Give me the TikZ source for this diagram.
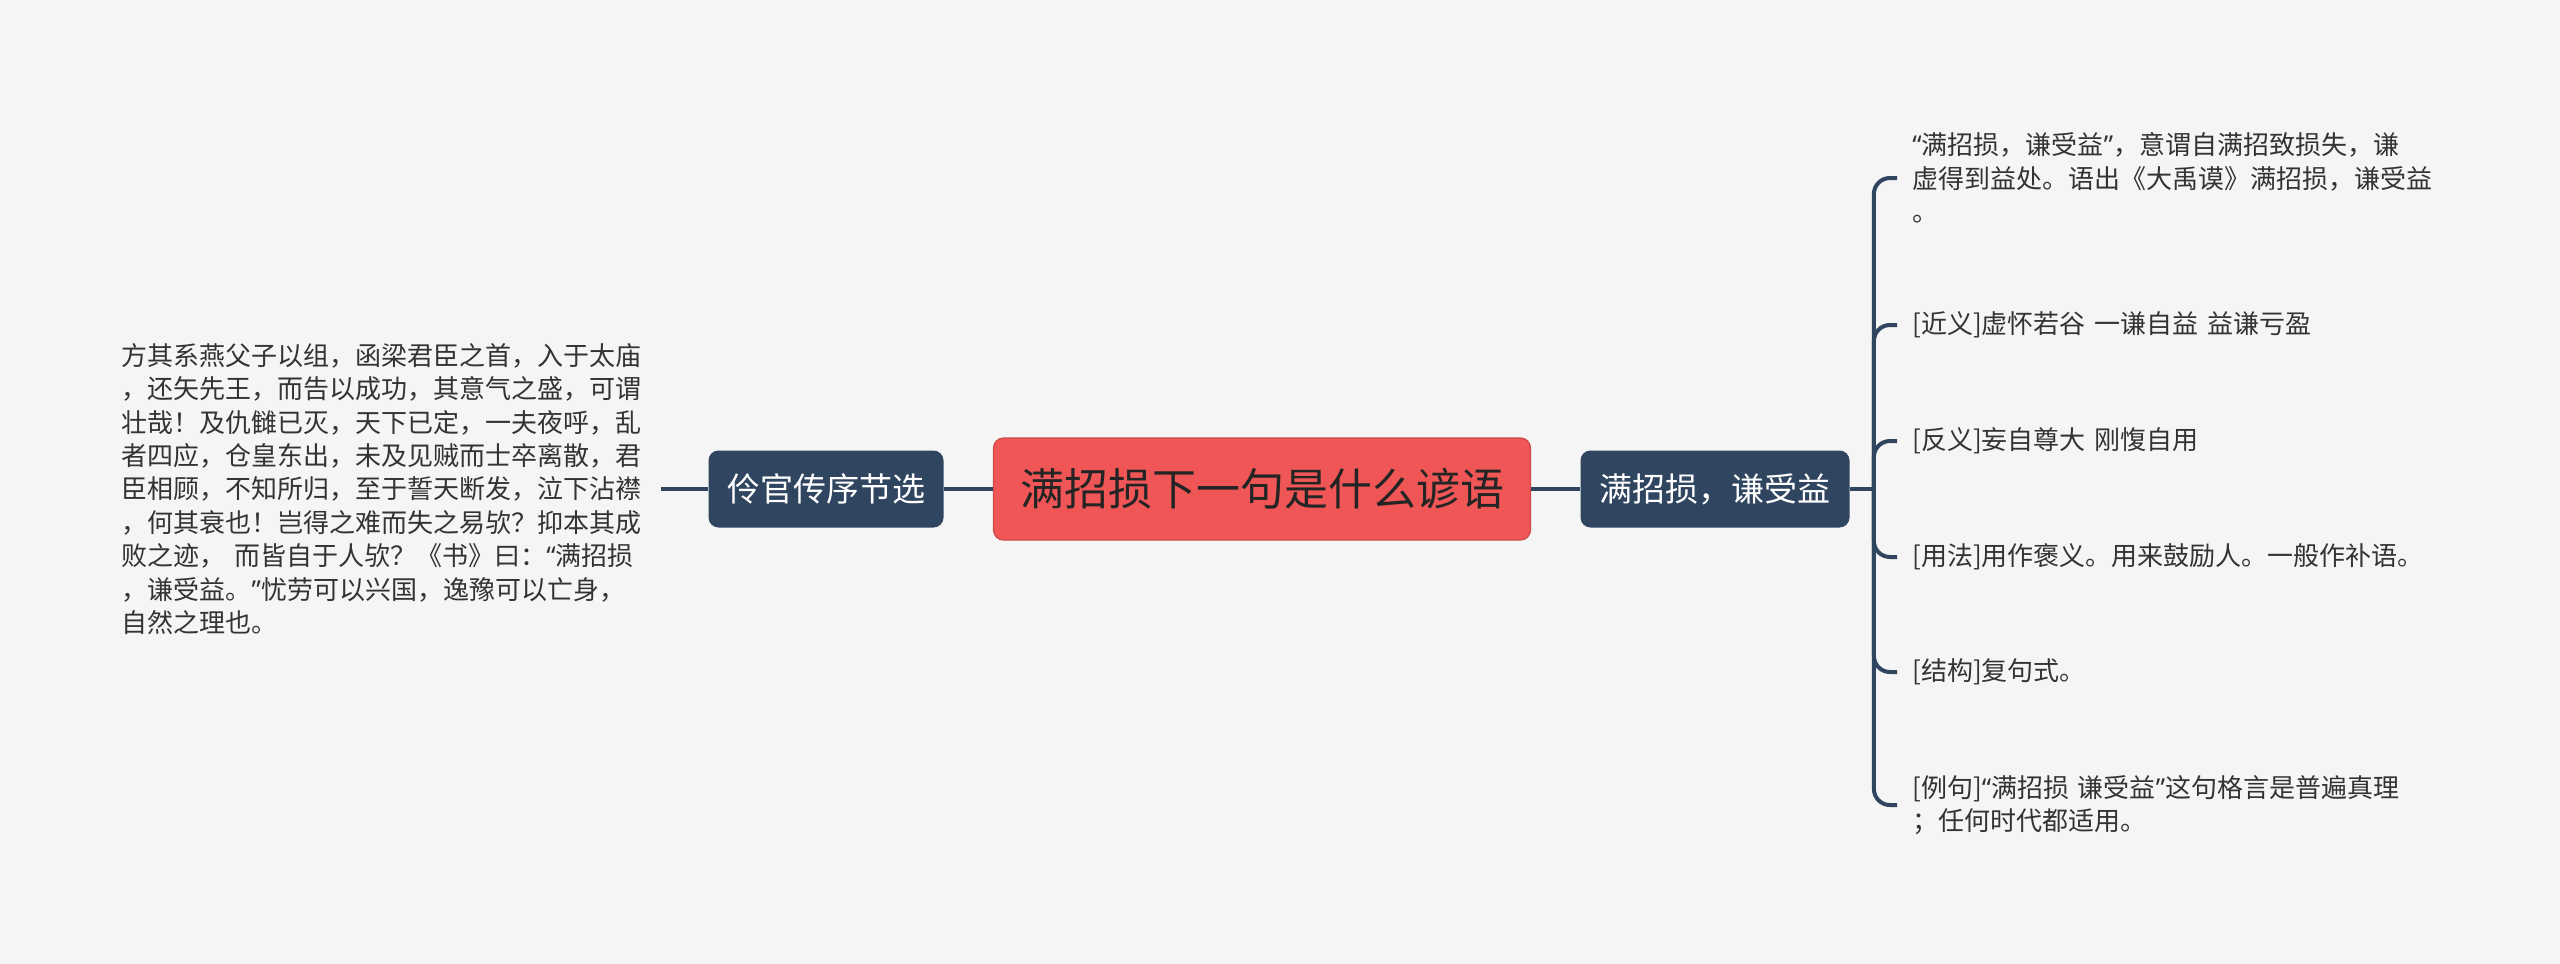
\documentclass[tikz,border=0pt]{standalone}
\usepackage{fontspec}
\setmainfont{Noto Sans CJK SC}
\newfontfamily\westfont{Noto Sans}
\usepackage{xcolor}
\usetikzlibrary{positioning}

\definecolor{bgcol}{HTML}{F5F5F5}
\definecolor{topicred}{HTML}{F05656}
\definecolor{slate}{HTML}{2F4560}
\definecolor{inkgray}{HTML}{333333}

% narrow quote marks as in the reference
\newcommand{\oq}{{\westfont “}}
\newcommand{\cq}{{\westfont ”}}

\begin{document}
\begin{tikzpicture}[x=0.5pt, y=-0.5pt, rounded corners=5pt,
  topic/.style={fill=topicred, draw=topicred!85!black, line width=0.6pt, text=inkgray!70!black,
    minimum width=268.5pt, minimum height=51pt, font=\fontsize{22}{26}\selectfont},
  sub/.style={fill=slate, text=white, minimum height=38.5pt, inner xsep=9pt,
    font=\fontsize{16.5}{20}\selectfont},
  leaf/.style={text=inkgray, align=left, text width=262pt, inner xsep=7.5pt, inner ysep=3pt,
    rounded corners=0pt, font=\fontsize{13}{16.7}\selectfont},
  link/.style={draw=slate, line width=2pt, rounded corners=8pt}]

\fill[bgcol, rounded corners=0pt] (0,0) rectangle (2560,964);
\useasboundingbox (0,0) rectangle (2560,964);

% centre and first level
\node (top) [topic] at (1262,489) {满招损下一句是什么谚语};
\node (src) [sub, left=24.5pt of top, minimum width=117.5pt] {伶官传序节选};
\node (key) [sub, right=24.5pt of top, minimum width=134.5pt] {满招损，谦受益};

\node (txt) [leaf, left=23.5pt of src] {方其系燕父子以组，函梁君臣之首，入于太庙\\
，还矢先王，而告以成功，其意气之盛，可谓\\
壮哉！及仇雠已灭，天下已定，一夫夜呼，乱\\
者四应，仓皇东出，未及见贼而士卒离散，君\\
臣相顾，不知所归，至于誓天断发，泣下沾襟\\
，何其衰也！岂得之难而失之易欤？抑本其成\\
败之迹，~而皆自于人欤？《书》曰：\oq 满招损\\
，谦受益。\cq 忧劳可以兴国，逸豫可以亡身，\\
自然之理也。};

\coordinate (hub) at ([xshift=12pt]key.east);

% right leaves
\node (mean) [leaf, anchor=west] at (1897,178) {\oq 满招损，谦受益\cq ，意谓自满招致损失，谦\\
虚得到益处。语出《大禹谟》满招损，谦受益\\
。};
\node (near) [leaf, anchor=west] at (1897,325) {[近义]虚怀若谷 一谦自益 益谦亏盈};
\node (anti) [leaf, anchor=west] at (1897,441) {[反义]妄自尊大 刚愎自用};
\node (use)  [leaf, anchor=west] at (1897,557) {[用法]用作褒义。用来鼓励人。一般作补语。};
\node (form) [leaf, anchor=west] at (1897,672) {[结构]复句式。};
\node (eg)   [leaf, anchor=west] at (1897,805) {[例句]\oq 满招损 谦受益\cq 这句格言是普遍真理\\
；任何时代都适用。};

\draw[link] (txt.east) -- (src.west);
\draw[link] (src) -- (top);
\draw[link] (top) -- (key);
\draw[link] (key.east) -- (hub);

\foreach \n in {mean,near,anti,use,form,eg}
  \draw[link] (hub) |- (\n.west);

\end{tikzpicture}
\end{document}
